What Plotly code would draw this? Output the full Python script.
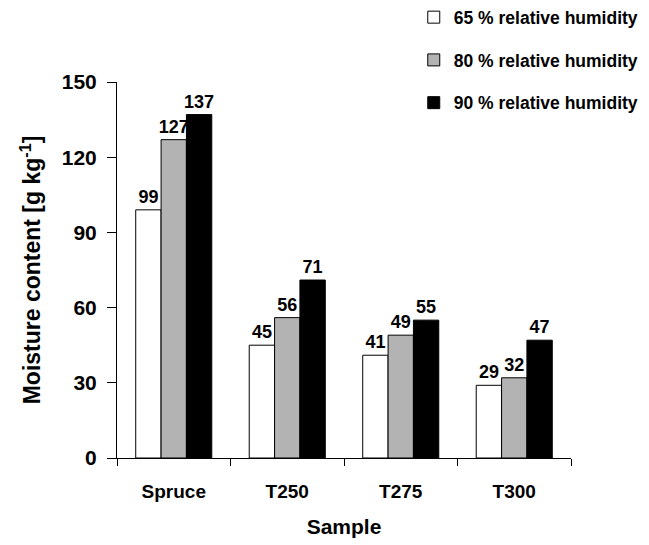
import plotly.graph_objects as go

samples = ["Spruce", "T250", "T275", "T300"]
rh65 = [99, 45, 41, 29]
rh80 = [127, 56, 49, 32]
rh90 = [137, 71, 55, 47]
series_names = ["65 % relative humidity", "80 % relative humidity", "90 % relative humidity"]
colors = ["#ffffff", "#b3b3b3", "#000000"]

FONT = "Liberation Sans, Arial, sans-serif"

fig = go.Figure()
for i, (name, vals, col) in enumerate(zip(series_names, [rh65, rh80, rh90], colors)):
    fig.add_trace(go.Bar(
        x=samples, y=vals, name=name,
        marker=dict(color=col, line=dict(color="#000000", width=1)),
        text=[str(v) for v in vals], textposition="outside", constraintext="none",
        textfont=dict(family=FONT, size=18, color="#000000", weight="bold"),
        cliponaxis=False, legendgroup=f"g{i}",
    ))

# page has an 8px body margin: figure is offset by (8, 8)
fig.update_layout(
    width=641, height=537,
    margin=dict(l=109, r=78, t=74, b=87, autoexpand=False),
    paper_bgcolor="white", plot_bgcolor="white",
    barmode="group", bargap=0.33, bargroupgap=0,
    font=dict(family=FONT, color="#000000"),
    showlegend=True,
    legend=dict(xref="container", yref="paper", x=0.633, y=1.22,
                xanchor="left", yanchor="top",
                font=dict(family=FONT, size=17.5, weight="bold"),
                tracegroupgap=17, bgcolor="rgba(0,0,0,0)"),
    xaxis=dict(
        showline=True, linecolor="#000000", linewidth=1,
        ticks="outside", tickson="boundaries", ticklen=7, tickcolor="#000000",
        ticklabelstandoff=16,
        tickfont=dict(family=FONT, size=19, weight="bold"),
        title=dict(text="Sample", font=dict(family=FONT, size=21, weight="bold"), standoff=18),
    ),
    yaxis=dict(
        range=[0, 150], tickvals=[0, 30, 60, 90, 120, 150],
        showline=True, linecolor="#000000", linewidth=1, showgrid=False, zeroline=False,
        ticks="outside", ticklen=9, tickcolor="#000000",
        ticklabelstandoff=6,
        tickfont=dict(family=FONT, size=21, weight="bold"),
        title=dict(text="Moisture content [g kg<sup>-1</sup>]",
                   font=dict(family=FONT, size=23, weight="bold"), standoff=14),
    ),
)

fig.write_html("out.html")
